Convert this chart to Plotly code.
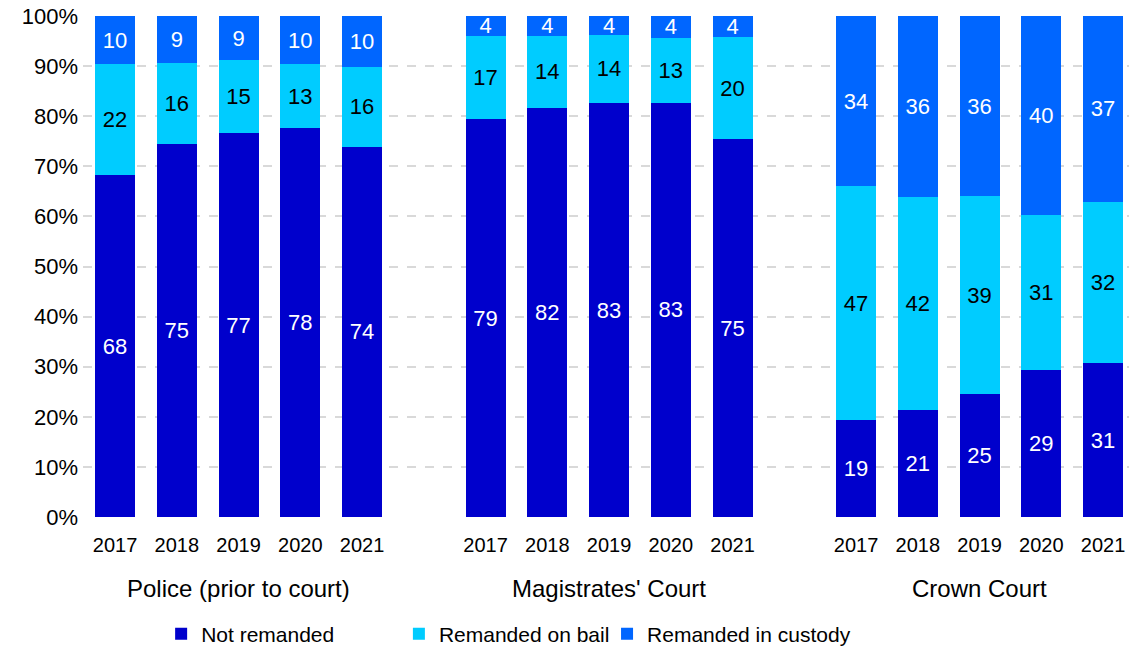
import plotly.graph_objects as go

years = ["2017", "2018", "2019", "2020", "2021"]
groups = ["Police (prior to court)", "Magistrates' Court", "Crown Court"]

not_remanded = {
    "Police (prior to court)": [68.2, 74.5, 76.6, 77.6, 73.9],
    "Magistrates' Court": [79.4, 81.7, 82.6, 82.7, 75.4],
    "Crown Court": [19.3, 21.4, 24.6, 29.3, 30.7],
}
remanded_bail = {
    "Police (prior to court)": [22.2, 16.2, 14.6, 12.8, 16.0],
    "Magistrates' Court": [16.7, 14.4, 13.7, 13.0, 20.4],
    "Crown Court": [46.7, 42.4, 39.4, 30.9, 32.2],
}
remanded_custody = {
    "Police (prior to court)": [9.6, 9.3, 8.8, 9.6, 10.1],
    "Magistrates' Court": [3.9, 3.9, 3.7, 4.3, 4.2],
    "Crown Court": [34.0, 36.2, 36.0, 39.8, 37.1],
}

series = [
    ("Not remanded", not_remanded, "#0000CC", "white", "legend"),
    ("Remanded on bail", remanded_bail, "#00CCFF", "black", "legend2"),
    ("Remanded in custody", remanded_custody, "#0066FF", "white", "legend3"),
]

FONT = "Liberation Sans, Arial, sans-serif"

# x positions: one empty slot between groups
slot = len(years) + 1
xpos, xlab = [], []
for gi, g in enumerate(groups):
    for yi, y in enumerate(years):
        xpos.append(gi * slot + yi)
        xlab.append(y)

fig = go.Figure()
for name, data, color, tcolor, lg in series:
    vals = []
    for g in groups:
        vals.extend(data[g])
    fig.add_trace(go.Bar(
        x=xpos, y=vals, name=name,
        marker=dict(color=color, line=dict(width=0)),
        texttemplate="%{y:.0f}", textposition="inside", textangle=0,
        insidetextanchor="middle", constraintext="none",
        textfont=dict(color=tcolor, size=22, family=FONT),
        legend=lg,
    ))

for gi, g in enumerate(groups):
    cx = gi * slot + (len(years) - 1) / 2
    fig.add_annotation(x=cx, xref="x", y=-0.142, yref="paper", text=g,
                       showarrow=False, yanchor="middle",
                       font=dict(size=24, family=FONT, color="black"))

legend_common = dict(orientation="h", yanchor="middle", y=-0.2335, xanchor="left",
                     font=dict(size=21, family=FONT, color="black"),
                     bgcolor="rgba(0,0,0,0)")

fig.update_layout(
    width=1129, height=648,
    margin=dict(l=83, r=0, t=16, b=131, autoexpand=False),
    barmode="stack", bargap=0.352,
    plot_bgcolor="white", paper_bgcolor="white",
    font=dict(family=FONT, color="black"),
    showlegend=True,
    legend=dict(x=0.0747, **legend_common),
    legend2=dict(x=0.302, **legend_common),
    legend3=dict(x=0.501, **legend_common),
    uniformtext=dict(minsize=22, mode="show"),
)
fig.update_xaxes(
    tickmode="array", tickvals=xpos, ticktext=xlab,
    range=[-0.52, 16.42], showgrid=False, zeroline=False, showline=False,
    ticks="", ticklabelstandoff=14,
    tickfont=dict(size=20, family=FONT, color="black"),
)
fig.update_yaxes(
    range=[0, 100], dtick=10, ticksuffix="%",
    showgrid=True, gridcolor="#D9D9D9", griddash="dash", gridwidth=1.5,
    zeroline=False, showline=False, ticks="", ticklabelstandoff=4,
    tickfont=dict(size=22, family=FONT, color="black"),
)

fig.write_html("out.html", config={"displayModeBar": False},
               post_script="document.body.style.margin='0';")
